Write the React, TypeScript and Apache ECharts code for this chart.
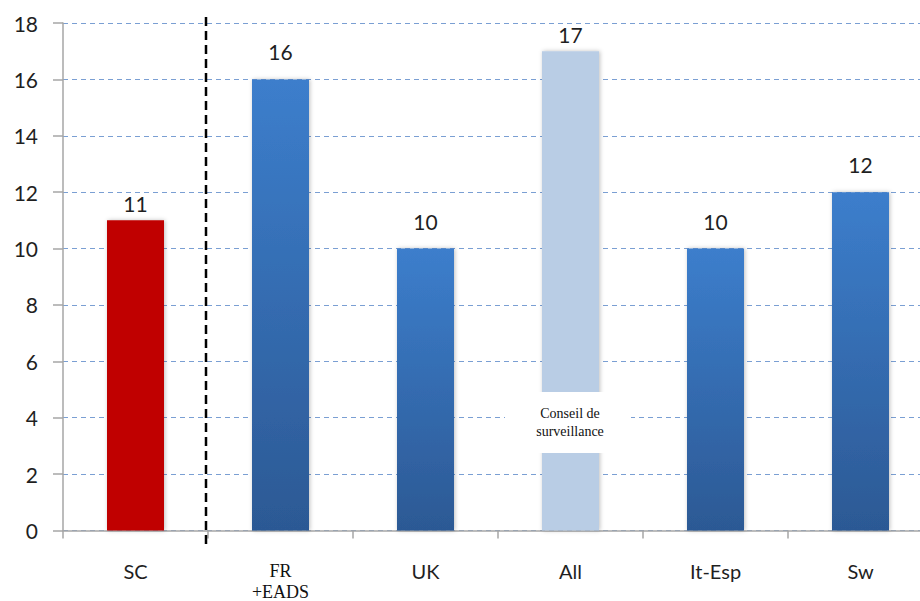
import React, { useEffect, useRef } from "react";
import * as echarts from "echarts";

const categories = ["SC", "FR\n+EADS", "UK", "All", "It-Esp", "Sw"];
const seats = [11, 16, 10, 17, 10, 12];
const yTicks = { min: 0, max: 18, interval: 2 };

const RED = "#C00000";
const LIGHT = "#B9CDE5";
const blueGradient = new echarts.graphic.LinearGradient(0, 0, 0, 1, [
  { offset: 0, color: "#3C7ECC" },
  { offset: 1, color: "#2C5994" },
]);

// The plot runs a little past the right edge of the visible frame.
const CANVAS_W = 933;
const VIEW_W = 920;
const H = 601;

export default function App() {
  const ref = useRef<HTMLDivElement>(null);

  useEffect(() => {
    document.body.style.margin = "0";
    if (!ref.current) return;
    const chart = echarts.init(ref.current, undefined, { renderer: "svg" });

    const barData = seats.map((v, i) => {
      const color = i === 0 ? RED : i === 3 ? LIGHT : blueGradient;
      const distance = i === 0 || i === 3 ? 6 : 17;
      return { value: v, itemStyle: { color }, label: { distance } };
    });

    chart.setOption({
      animation: false,
      backgroundColor: "#ffffff",
      grid: { left: 63, right: 0, top: 23, bottom: 66, containLabel: false },
      xAxis: {
        type: "category",
        data: categories,
        axisLine: { lineStyle: { color: "#A6A6A6", width: 1.5 } },
        axisTick: { show: true, interval: 0, length: 8, lineStyle: { color: "#A6A6A6", width: 1.5 } },
        axisLabel: {
          interval: 0,
          margin: 30,
          color: "#1F1F1F",
          fontFamily: "Lato",
          fontSize: 20,
          formatter: (v: string) =>
            v.includes("\n")
              ? v.split("\n").map((s) => `{serif|${s}}`).join("\n")
              : v,
          rich: {
            serif: {
              fontFamily: "Liberation Serif",
              fontSize: 18,
              lineHeight: 21,
              color: "#111",
            },
          },
        },
      },
      yAxis: {
        type: "value",
        min: yTicks.min,
        max: yTicks.max,
        interval: yTicks.interval,
        axisLine: { show: true, lineStyle: { color: "#A6A6A6", width: 1.5 } },
        axisTick: { show: true, length: 10, lineStyle: { color: "#A6A6A6", width: 1.5 } },
        axisLabel: { margin: 25, color: "#1F1F1F", fontFamily: "Lato", fontSize: 21 },
        splitLine: { lineStyle: { color: "#7A9FD3", type: [5, 4], width: 1.2 } },
      },
      series: [
        {
          type: "bar",
          data: barData,
          barWidth: 57,
          itemStyle: {
            shadowColor: "rgba(0,0,0,0.25)",
            shadowBlur: 4,
            shadowOffsetX: 1,
            shadowOffsetY: 0,
          },
          label: {
            show: true,
            position: "top",
            color: "#1F1F1F",
            fontFamily: "Lato",
            fontSize: 21,
          },
        },
      ],
      graphic: [
        {
          type: "line",
          z: 100,
          shape: { x1: 206, y1: 17, x2: 206, y2: 549 },
          style: { stroke: "#000", lineWidth: 2.5, lineDash: [9, 5] },
        },
        {
          type: "rect",
          z: 100,
          shape: { x: 505, y: 392, width: 126, height: 61 },
          style: { fill: "#ffffff" },
        },
        {
          type: "text",
          z: 101,
          x: 570,
          y: 422,
          style: {
            text: "Conseil de\nsurveillance",
            fontFamily: "Liberation Serif",
            fontSize: 14,
            lineHeight: 18,
            fill: "#111",
            align: "center",
            verticalAlign: "middle",
          },
        },
      ],
    });

    return () => chart.dispose();
  }, []);

  return (
    <div style={{ width: VIEW_W, height: H, overflow: "hidden" }}>
      <div ref={ref} style={{ width: CANVAS_W, height: H }} />
    </div>
  );
}
